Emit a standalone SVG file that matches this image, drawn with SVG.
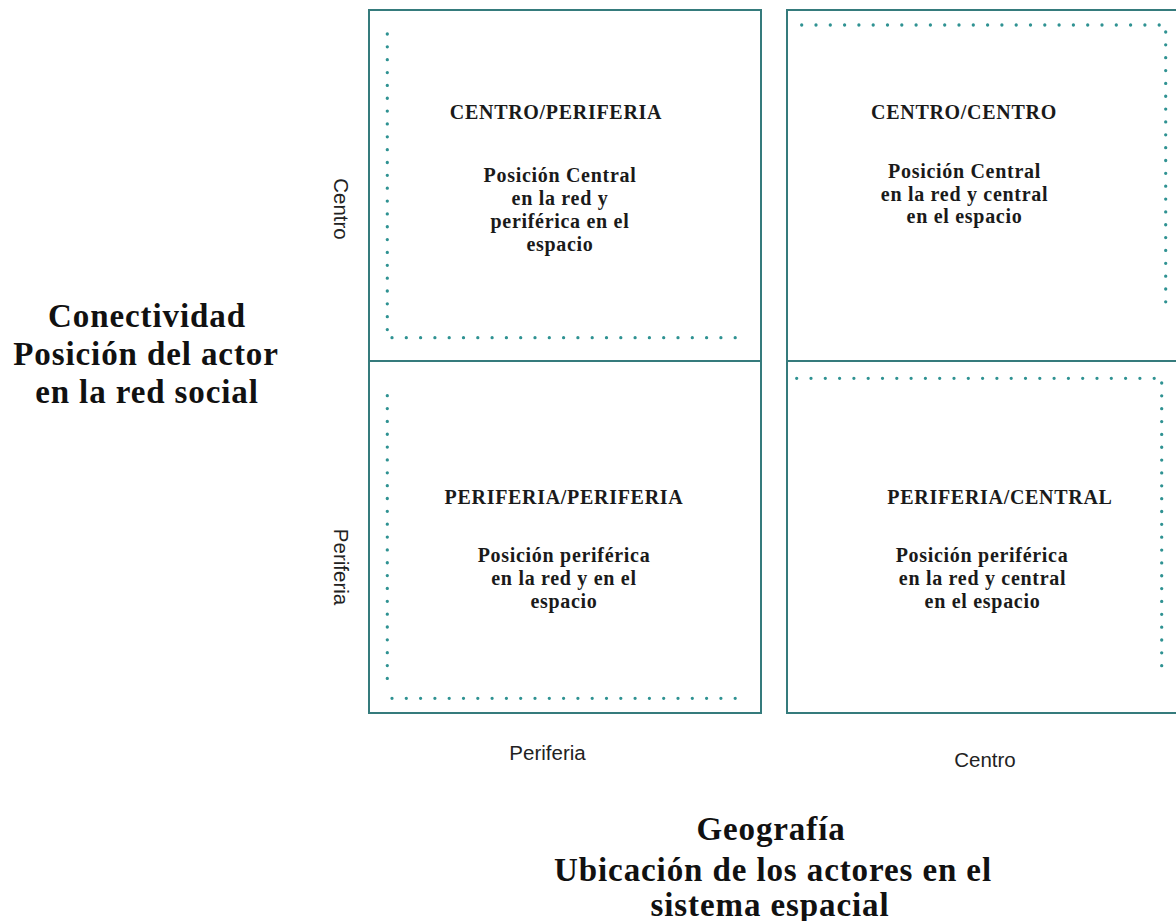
<svg xmlns="http://www.w3.org/2000/svg" width="1176" height="921" viewBox="0 0 1176 921">
  <style>
    .box { fill: #ffffff; stroke: #357b7c; stroke-width: 2; }
    .dots { fill: none; stroke: #2f9292; stroke-width: 3.3; stroke-linecap: round; }
    .dh { stroke-dasharray: 0 14.3; }
    .dv { stroke-dasharray: 0 12.85; }
    .qt { font-family: "Liberation Serif", "Times New Roman", serif; font-size: 20px; font-weight: bold; fill: #1a1a1a; text-anchor: middle; letter-spacing: 0.7px; }
    .big { font-family: "Liberation Serif", "Times New Roman", serif; font-size: 33px; font-weight: bold; fill: #111111; text-anchor: middle; letter-spacing: 0.9px; }
    .axis { font-family: "Liberation Sans", Arial, sans-serif; font-size: 20.5px; fill: #222222; text-anchor: middle; }
  </style>
  <rect x="0" y="0" width="1176" height="921" fill="#ffffff"/>

  <g id="q-centro-periferia">
    <rect class="box" x="369" y="10" width="392" height="351"/>
    <line class="dots dv" x1="387.3" y1="34" x2="387.3" y2="330.5"/>
    <line class="dots dh" x1="392" y1="337.7" x2="735.5" y2="337.7"/>
    <text class="qt" x="556" y="119">CENTRO/PERIFERIA</text>
    <text class="qt" x="560" y="182">Posición Central</text>
    <text class="qt" x="560" y="205">en la red y</text>
    <text class="qt" x="560" y="228">periférica en el</text>
    <text class="qt" x="560" y="251">espacio</text>
  </g>

  <g id="q-centro-centro">
    <rect class="box" x="787" y="10" width="394" height="351"/>
    <line class="dots dh" x1="801.7" y1="25" x2="1159.5" y2="25"/>
    <line class="dots dv" x1="1165.7" y1="32" x2="1165.7" y2="314"/>
    <text class="qt" x="964" y="119">CENTRO/CENTRO</text>
    <text class="qt" x="964.5" y="178">Posición Central</text>
    <text class="qt" x="964.5" y="200.5">en la red y central</text>
    <text class="qt" x="964.5" y="223">en el espacio</text>
  </g>

  <g id="q-periferia-periferia">
    <rect class="box" x="369" y="361" width="392" height="352"/>
    <line class="dots dv" x1="387.3" y1="395.7" x2="387.3" y2="691"/>
    <line class="dots dh" x1="392" y1="698.3" x2="735.5" y2="698.3"/>
    <text class="qt" x="564" y="504">PERIFERIA/PERIFERIA</text>
    <text class="qt" x="564" y="562">Posición periférica</text>
    <text class="qt" x="564" y="585">en la red y en el</text>
    <text class="qt" x="564" y="608">espacio</text>
  </g>

  <g id="q-periferia-central">
    <rect class="box" x="787" y="361" width="394" height="352"/>
    <line class="dots dh" x1="796.7" y1="378.3" x2="1155.5" y2="378.3"/>
    <line class="dots dv" x1="1161.7" y1="383" x2="1161.7" y2="666"/>
    <text class="qt" x="1000" y="504">PERIFERIA/CENTRAL</text>
    <text class="qt" x="982" y="562">Posición periférica</text>
    <text class="qt" x="982.5" y="585">en la red y central</text>
    <text class="qt" x="982.5" y="608">en el espacio</text>
  </g>

  <g id="axis-y">
    <text class="axis" transform="translate(334,209) rotate(90)" x="0" y="0">Centro</text>
    <text class="axis" transform="translate(334,567) rotate(90)" x="0" y="0">Periferia</text>
    <text class="big" x="147" y="327">Conectividad</text>
    <text class="big" x="146" y="365">Posición del actor</text>
    <text class="big" x="147" y="403">en la red social</text>
  </g>

  <g id="axis-x">
    <text class="axis" x="547.5" y="760">Periferia</text>
    <text class="axis" x="985" y="767">Centro</text>
    <text class="big" x="771" y="840">Geografía</text>
    <text class="big" x="773" y="881">Ubicación de los actores en el</text>
    <text class="big" x="770" y="916">sistema espacial</text>
  </g>
</svg>
